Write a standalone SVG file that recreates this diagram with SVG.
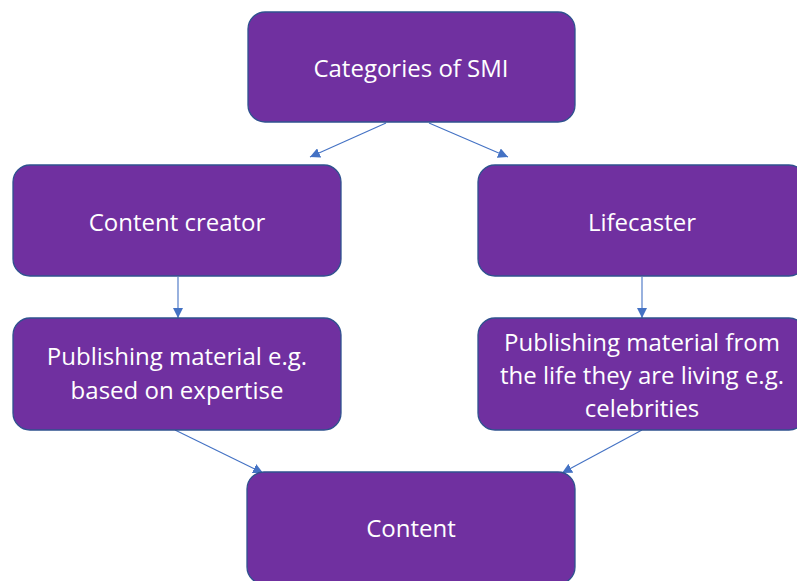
<svg xmlns="http://www.w3.org/2000/svg" width="797" height="581" viewBox="0 0 797 581">
  <style>
    .box { fill: #7030A0; stroke: #2F528F; stroke-width: 1.3; }
    .lbl { fill: #FFFFFF; font-family: "Open Sans", "Noto Sans", "Liberation Sans", sans-serif; font-size: 24px; text-anchor: middle; }
    .edge { stroke: #4472C4; stroke-width: 1.1; fill: none; marker-end: url(#head); }
  </style>
  <defs>
    <marker id="head" viewBox="0 0 10 10" refX="10" refY="5" markerWidth="10" markerHeight="10" markerUnits="userSpaceOnUse" orient="auto">
      <path d="M0,0 L10,5 L0,10 Z" fill="#4472C4"/>
    </marker>
  </defs>
  <rect width="797" height="581" fill="#FFFFFF"/>

  <g id="connectors">
    <line class="edge" x1="386" y1="123" x2="310" y2="157"/>
    <line class="edge" x1="429" y1="123" x2="508" y2="157"/>
    <line class="edge" x1="178" y1="277" x2="178" y2="318"/>
    <line class="edge" x1="642" y1="277" x2="642" y2="318"/>
    <line class="edge" x1="175" y1="430" x2="263" y2="473"/>
    <line class="edge" x1="642" y1="430" x2="562" y2="473"/>
  </g>

  <g id="categories">
    <rect class="box" x="248" y="12" width="327" height="110" rx="17"/>
    <text class="lbl" x="411" y="77">Categories of SMI</text>
  </g>

  <g id="content-creator">
    <rect class="box" x="13" y="165" width="328" height="111" rx="17"/>
    <text class="lbl" x="177" y="231">Content creator</text>
  </g>

  <g id="lifecaster">
    <rect class="box" x="478" y="165" width="328" height="111" rx="17"/>
    <text class="lbl" x="642" y="231">Lifecaster</text>
  </g>

  <g id="expertise">
    <rect class="box" x="13" y="318" width="328" height="112" rx="17"/>
    <text class="lbl" x="177" y="365">Publishing material e.g.</text>
    <text class="lbl" x="177" y="399">based on expertise</text>
  </g>

  <g id="life-living">
    <rect class="box" x="478" y="318" width="328" height="112" rx="17"/>
    <text class="lbl" x="642" y="351">Publishing material from</text>
    <text class="lbl" x="642" y="384">the life they are living e.g.</text>
    <text class="lbl" x="642" y="417">celebrities</text>
  </g>

  <g id="content">
    <rect class="box" x="247" y="472" width="328" height="112" rx="17"/>
    <text class="lbl" x="411" y="537">Content</text>
  </g>
</svg>
